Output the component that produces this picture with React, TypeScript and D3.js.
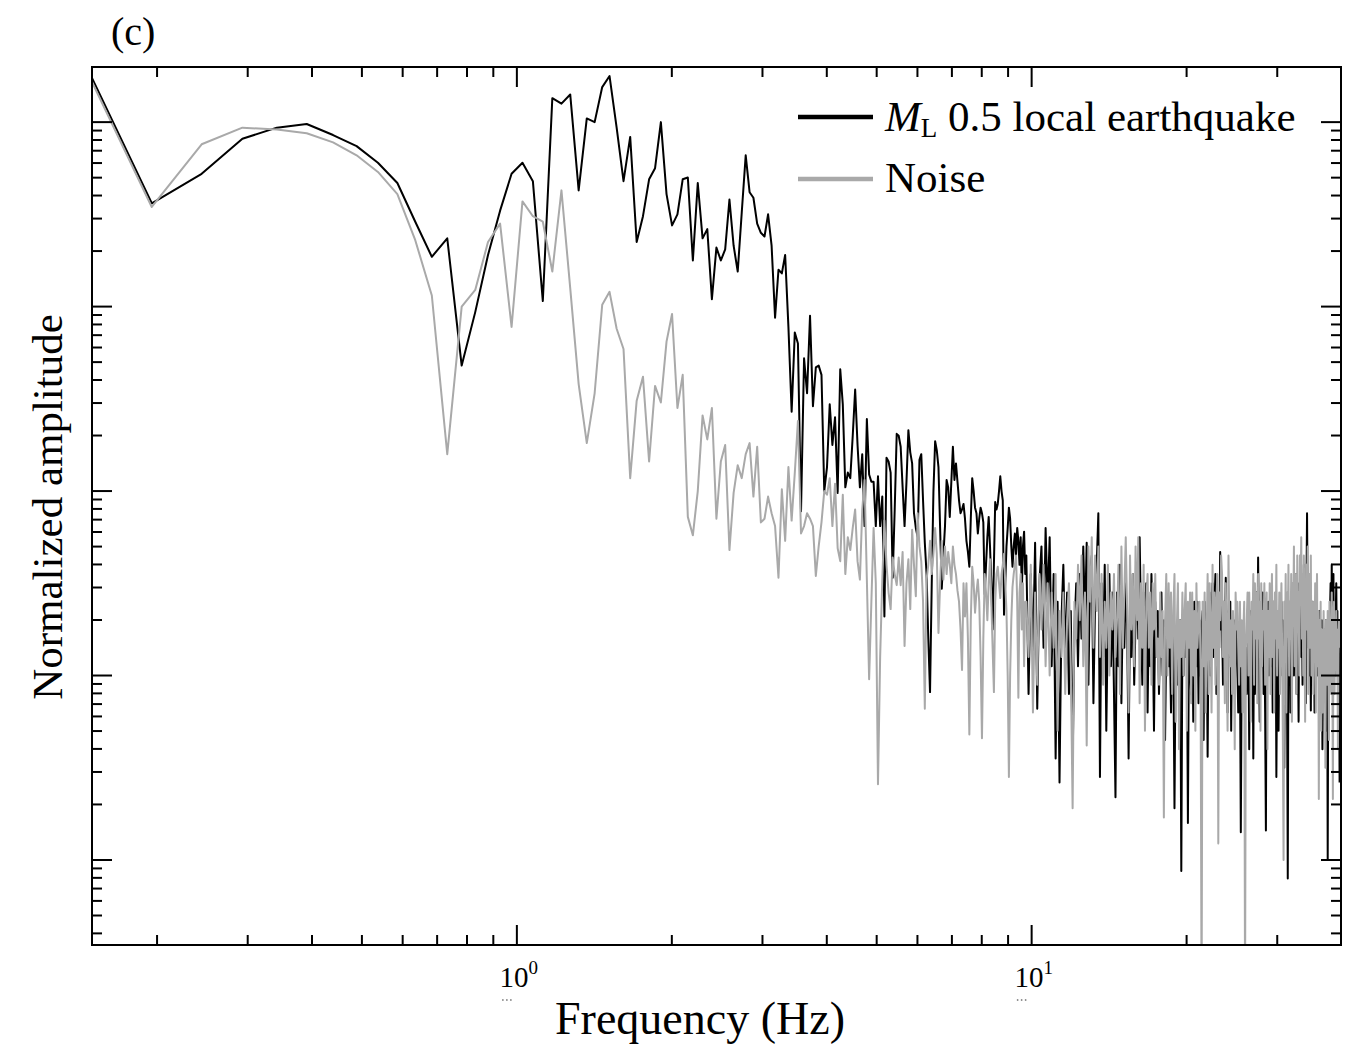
import React from 'react';
import * as d3 from 'd3';

// Spectral resolution of the spectra (Hz per FFT bin)
const DF = 100 / 2048;
// FFT bin indices that are plotted (bins become denser than pixels at high frequency)
const BIN_SEGMENTS = [
  { start: 3, end: 199, step: 1 },
  { start: 200, end: 298, step: 2 },
  { start: 300, end: 812, step: 2 },
];

// log10 of normalized amplitude, M_L 0.5 local earthquake (black)
const quakeLogLow = [
  0.29, -0.44, -0.28, -0.09, -0.03, -0.01, -0.07, -0.13, -0.22, -0.33,
  -0.54, -0.73, -0.63, -1.32, -1.03, -0.72, -0.48, -0.28, -0.22, -0.32,
  -0.97, 0.13, 0.10, 0.15, -0.37, 0.02, 0.00, 0.19, 0.25, -0.03,
  -0.32, -0.08, -0.65, -0.51, -0.31, -0.25, 0.00, -0.39, -0.56, -0.50,
  -0.31, -0.30, -0.75, -0.33, -0.63, -0.58, -0.96, -0.68, -0.75, -0.69,
  -0.42, -0.67, -0.81, -0.49, -0.18, -0.38, -0.41, -0.55, -0.60, -0.62,
  -0.50, -0.67, -1.06, -0.80, -0.82, -0.72, -1.11, -1.57, -1.14, -1.20,
  -2.11, -1.28, -1.47, -1.05, -1.54, -1.33, -1.32, -1.37, -2.00, -1.87,
  -1.53, -1.75, -1.60, -2.01, -1.34, -1.53, -1.98, -1.90, -1.93, -1.70,
  -1.45, -1.75, -1.98, -1.80, -2.19, -1.61, -1.91, -1.95, -1.95, -2.19,
  -1.92, -2.19, -2.03, -2.68, -1.82, -1.84, -1.90, -2.47, -2.10, -1.69,
  -1.70, -1.76, -1.98, -2.19, -1.95, -1.67, -1.79, -1.85, -2.12, -2.20,
  -2.25, -1.83, -1.80, -2.05, -2.28, -2.45, -2.80, -3.09, -2.50, -2.00,
  -1.73, -1.78, -1.87, -2.20, -2.53, -2.35, -2.19, -1.94, -1.98, -2.14,
  -1.95, -1.76, -1.94, -1.85, -1.95, -2.05, -2.12, -2.10, -2.07, -2.15,
  -2.27, -2.33, -2.41, -2.15, -1.93, -2.00, -2.09, -2.12, -2.23, -2.15,
  -2.09, -2.12, -2.17, -2.56, -2.40, -2.25, -2.14, -2.30, -2.50, -2.75,
  -2.40, -2.06, -2.10, -2.07, -2.00, -1.92, -2.00, -2.05, -2.67, -2.50,
  -2.30, -2.20, -2.09, -2.15, -2.30, -2.41, -2.30, -2.23, -2.35, -2.20,
  -2.27, -2.40, -2.25, -2.55, -2.30, -2.22, -2.45,
];
const quakeLogMid = [
  -2.35, -3.10, -2.45, -2.90, -2.28, -3.18, -2.50, -2.30, -2.85, -2.20,
  -2.60, -2.25, -2.95, -2.45, -3.45, -2.60, -3.58, -2.70, -2.40, -2.90,
  -2.55, -3.10, -2.65, -3.48, -2.75, -2.50, -2.95, -2.45, -2.80, -2.30,
  -2.70, -2.28, -3.05, -2.45, -2.35, -3.15, -2.60, -2.40, -2.12, -3.55,
  -2.50, -2.90, -2.40, -3.30, -2.70, -2.45, -2.95, -2.55, -3.10, -3.66,
];
const quakeLogHigh = [
  -2.55, -2.95, -2.40, -3.15, -2.60, -2.85, -2.50, -2.75, -3.45, -2.65,
  -2.90, -2.45, -3.05, -2.70, -2.40, -2.80, -2.25, -2.70, -3.05, -2.55,
  -2.85, -2.50, -3.20, -2.65, -2.95, -2.45, -2.75, -3.30, -2.60, -2.90,
  -2.65, -3.10, -2.75, -2.55, -3.00, -2.70, -3.35, -2.80, -2.65, -2.95,
  -2.80, -3.20, -2.70, -2.90, -3.72, -2.85, -2.75, -3.05, -2.80, -2.70,
  -4.06, -2.75, -3.00, -2.65, -2.90, -2.70, -3.80, -2.75, -2.95, -3.10,
  -2.65, -3.25, -2.60, -2.85, -2.95, -2.60, -3.15, -2.70, -3.00, -2.75,
  -2.65, -3.35, -2.60, -2.90, -2.75, -3.44, -2.70, -2.55, -3.00, -2.65,
  -2.50, -2.90, -2.60, -2.45, -3.10, -2.70, -2.60, -2.85, -2.33, -2.75,
  -2.70, -3.05, -2.60, -2.85, -2.47, -2.80, -3.20, -2.65, -2.90, -2.60,
  -3.30, -2.75, -2.95, -2.70, -3.10, -2.85, -2.70, -2.95, -3.20, -2.80,
  -2.90, -3.85, -2.95, -2.85, -2.95, -2.80, -2.90, -2.85, -3.10, -2.95,
  -2.75, -3.40, -2.65, -2.90, -3.00, -2.70, -3.45, -2.60, -3.10, -2.80,
  -2.55, -2.90, -2.36, -2.85, -3.25, -2.65, -2.95, -2.75, -2.55, -3.10,
  -2.80, -3.20, -3.84, -2.70, -2.90, -2.60, -3.00, -2.70, -2.55, -2.95,
  -2.75, -3.20, -2.60, -2.85, -3.05, -2.65, -3.55, -2.95, -2.70, -3.30,
  -2.80, -2.65, -3.00, -2.60, -2.90, -2.70, -2.85, -3.50, -2.75, -2.60,
  -2.80, -3.10, -4.10, -2.80, -2.95, -2.65, -3.20, -2.70, -2.60, -2.90,
  -2.70, -3.00, -2.55, -2.90, -2.45, -3.10, -2.60, -2.85, -3.25, -2.50,
  -2.70, -2.35, -2.90, -2.55, -3.05, -2.75, -2.40, -2.85, -2.60, -3.15,
  -2.55, -2.12, -2.65, -2.85, -2.50, -3.00, -2.75, -3.19, -2.60, -2.80,
  -2.60, -2.95, -2.70, -3.20, -2.75, -2.60, -2.90, -2.80, -3.00, -2.70,
  -2.85, -2.65, -3.20, -2.75, -2.95, -2.70, -3.40, -2.85, -2.80, -3.05,
  -2.75, -2.90, -2.70, -3.30, -2.80, -4.00, -2.85, -2.80, -2.95, -2.65,
  -2.50, -2.90, -2.40, -3.10, -2.55, -2.45, -2.95, -2.60, -3.00, -2.70,
  -2.50, -2.85, -2.65, -3.05, -2.70, -2.90, -3.58,
];

// log10 of normalized amplitude, noise (gray)
const noiseLogLow = [
  0.27, -0.46, -0.12, -0.03, -0.04, -0.06, -0.11, -0.18, -0.27, -0.39,
  -0.64, -0.94, -1.80, -1.00, -0.91, -0.65, -0.55, -1.11, -0.43, -0.51,
  -0.54, -0.81, -0.37, -0.90, -1.42, -1.74, -1.47, -0.99, -0.92, -1.12,
  -1.23, -1.93, -1.51, -1.38, -1.84, -1.43, -1.52, -1.19, -1.04, -1.55,
  -1.37, -2.14, -2.24, -2.00, -1.59, -1.72, -1.55, -2.15, -1.84, -1.75,
  -2.32, -2.01, -1.86, -1.93, -1.80, -1.74, -2.03, -1.76, -2.17, -2.15,
  -2.03, -2.12, -2.19, -2.47, -1.99, -2.27, -1.87, -2.16, -1.90, -1.62,
  -2.23, -2.19, -2.12, -2.15, -2.19, -2.46, -2.30, -2.17, -2.00, -2.02,
  -1.93, -2.19, -1.96, -2.31, -2.38, -2.02, -2.45, -2.25, -2.32, -2.20,
  -2.10, -2.38, -2.48, -2.10, -1.94, -2.48, -3.02, -2.60, -2.20, -2.50,
  -3.59, -2.90, -2.48, -2.16, -2.40, -2.55, -2.64, -2.36, -2.45, -2.51,
  -2.36, -2.51, -2.33, -2.84, -2.50, -2.37, -2.64, -2.21, -2.40, -2.57,
  -2.12, -2.30, -2.38, -2.60, -3.18, -2.48, -2.40, -2.27, -2.45, -2.34,
  -2.20, -2.34, -2.77, -2.50, -2.27, -2.48, -2.30, -2.45, -2.33, -2.40,
  -2.50, -2.30, -2.40, -2.45, -2.54, -2.60, -2.75, -2.97, -2.50, -2.68,
  -2.50, -2.80, -3.32, -2.70, -2.41, -2.50, -2.66, -2.55, -2.48, -2.60,
  -2.90, -3.34, -2.80, -2.45, -2.55, -2.70, -2.50, -2.37, -2.60, -2.85,
  -3.09, -2.60, -2.45, -2.41, -2.50, -2.58, -2.45, -2.40, -2.34, -2.50,
  -2.65, -3.00, -3.55, -3.00, -2.70, -2.52, -2.45, -2.40, -2.35, -2.60,
  -3.12, -2.55, -2.45, -2.75, -2.50, -2.95, -2.60,
];
const noiseLogMid = [
  -2.60, -2.90, -2.40, -3.20, -2.55, -3.05, -2.45, -2.75, -2.40, -2.95,
  -2.50, -3.00, -2.55, -2.85, -2.45, -3.30, -2.65, -2.90, -2.55, -3.10,
  -2.70, -2.50, -2.95, -3.72, -2.60, -2.80, -2.40, -2.70, -2.35, -2.95,
  -2.55, -3.38, -2.30, -2.60, -2.25, -2.85, -2.35, -2.65, -2.30, -2.90,
  -2.45, -3.05, -2.60, -2.85, -2.40, -3.00, -2.55, -2.75, -2.45, -2.90,
];
const noiseLogHigh = [
  -2.70, -2.40, -3.10, -2.30, -2.85, -2.55, -2.25, -2.65, -3.20, -2.35,
  -2.75, -2.45, -2.95, -2.30, -2.70, -2.25, -3.15, -2.50, -2.85, -2.40,
  -3.30, -2.60, -2.45, -2.85, -2.55, -3.05, -2.50, -2.75, -2.45, -2.90,
  -2.80, -3.05, -2.55, -2.90, -2.65, -3.77, -2.70, -2.45, -3.00, -2.50,
  -2.85, -2.55, -3.10, -2.65, -2.45, -3.25, -2.75, -2.50, -3.40, -2.70,
  -2.90, -2.55, -3.00, -2.65, -2.50, -3.30, -2.60, -2.85, -2.55, -3.15,
  -2.55, -3.00, -2.65, -3.30, -2.50, -2.85, -2.70, -2.60, -2.95, -4.80,
  -2.60, -2.95, -2.55, -3.20, -2.80, -2.45, -3.10, -2.50, -2.75, -3.20,
  -2.40, -2.85, -2.55, -3.05, -2.60, -2.45, -3.91, -2.55, -2.70, -2.35,
  -2.45, -2.90, -2.60, -3.15, -2.50, -2.85, -3.30, -2.35, -2.75, -2.95,
  -2.70, -3.10, -2.65, -2.80, -3.40, -2.55, -2.75, -2.60, -2.85, -3.05,
  -2.60, -2.95, -2.70, -3.20, -2.75, -2.60, -4.80, -2.85, -2.70, -2.55,
  -3.00, -2.55, -2.85, -3.25, -2.60, -2.75, -2.45, -3.05, -2.50, -2.80,
  -2.55, -3.15, -2.45, -2.80, -2.60, -3.30, -2.50, -2.95, -2.65, -2.75,
  -2.50, -3.05, -2.70, -2.55, -3.40, -2.65, -2.90, -2.50, -3.10, -2.70,
  -2.45, -2.90, -2.60, -3.20, -2.55, -2.80, -2.40, -3.00, -2.65, -2.85,
  -2.55, -3.10, -2.70, -2.50, -2.85, -3.35, -4.00, -2.60, -2.85, -2.45,
  -3.20, -2.55, -2.75, -2.40, -3.00, -2.60, -2.80, -2.45, -3.25, -2.50,
  -2.70, -2.30, -2.95, -2.45, -2.60, -3.10, -2.35, -2.75, -2.55, -3.00,
  -2.35, -2.55, -2.25, -2.80, -2.45, -3.00, -2.35, -2.65, -3.25, -2.55,
  -2.40, -2.75, -2.30, -3.10, -2.55, -2.45, -2.85, -2.35, -3.00, -2.60,
  -2.75, -3.10, -2.60, -2.85, -2.50, -3.20, -2.70, -2.45, -2.95, -2.65,
  -3.67, -2.70, -2.95, -2.60, -3.30, -2.75, -2.85, -3.20, -2.65, -2.95,
  -2.75, -3.50, -2.70, -2.90, -3.05, -2.65, -2.80, -3.35, -2.60, -2.95,
  -2.75, -3.10, -2.55, -2.85, -3.67, -2.75, -2.60, -3.10, -2.70, -2.90,
  -2.65, -3.00, -2.75, -3.40, -2.80, -2.70, -2.85,
];

const xTickLabels = [
  { value: 1, base: '10', exp: '0' },
  { value: 10, base: '10', exp: '1' },
];

const legendItems = [
  { key: 'quake', color: '#000000' },
  { key: 'noise', color: '#a9a9a9' },
];

const W = 1348;
const H = 1050;
const PLOT = { left: 92, right: 1341, top: 67, bottom: 945 };
const FONT = '"Liberation Serif", "Times New Roman", serif';

export default function App() {
  const x = d3.scaleLog().domain([0.1495, 39.9]).range([PLOT.left, PLOT.right]);
  const y = d3.scaleLog().domain([3.46e-5, 1.99]).range([PLOT.bottom, PLOT.top]);

  const bins = BIN_SEGMENTS.flatMap((s) => d3.range(s.start, s.end + 1, s.step));
  const freqs = bins.map((k) => k * DF);
  const quake = [...quakeLogLow, ...quakeLogMid, ...quakeLogHigh];
  const noise = [...noiseLogLow, ...noiseLogMid, ...noiseLogHigh];

  const toPts = (vals: number[]) => vals.map((v, i) => ({ f: freqs[i], a: Math.pow(10, v) }));
  const line = d3
    .line<{ f: number; a: number }>()
    .x((d) => x(d.f))
    .y((d) => y(d.a));

  const isMajor = (v: number) => Math.abs(Math.log10(v) - Math.round(Math.log10(v))) < 1e-6;
  const xTicks = x.ticks();
  const yTicks = y.ticks();

  return (
    <svg
      width={W}
      height={H}
      style={{ position: 'absolute', left: 0, top: 0, background: '#fff' }}
      fontFamily={FONT}
    >
      <defs>
        <clipPath id="plotClip">
          <rect x={PLOT.left} y={PLOT.top} width={PLOT.right - PLOT.left} height={PLOT.bottom - PLOT.top} />
        </clipPath>
      </defs>

      <g clipPath="url(#plotClip)" fill="none" strokeLinejoin="round">
        <path d={line(toPts(quake)) || ''} stroke="#000" strokeWidth={2} />
        <path d={line(toPts(noise)) || ''} stroke="#a9a9a9" strokeWidth={2} />
      </g>

      {/* ticks */}
      <g stroke="#000" strokeWidth={2}>
        {xTicks.map((t, i) => {
          const len = isMajor(t) ? 20 : 10;
          const px = x(t);
          return (
            <g key={'xt' + i}>
              <line x1={px} x2={px} y1={PLOT.bottom} y2={PLOT.bottom - len} />
              <line x1={px} x2={px} y1={PLOT.top} y2={PLOT.top + len} />
            </g>
          );
        })}
        {yTicks.map((t, i) => {
          const len = isMajor(t) ? 20 : 10;
          const py = y(t);
          return (
            <g key={'yt' + i}>
              <line x1={PLOT.left} x2={PLOT.left + len} y1={py} y2={py} />
              <line x1={PLOT.right} x2={PLOT.right - len} y1={py} y2={py} />
            </g>
          );
        })}
      </g>

      {/* frame */}
      <rect
        x={PLOT.left}
        y={PLOT.top}
        width={PLOT.right - PLOT.left}
        height={PLOT.bottom - PLOT.top}
        fill="none"
        stroke="#000"
        strokeWidth={2}
      />

      {/* x tick labels */}
      {xTickLabels.map((t) => (
        <g key={'xl' + t.value}>
          <text x={x(t.value) + 2} y={987} fontSize={29} textAnchor="middle" fill="#000">
            {t.base}
            <tspan dy={-13} fontSize={19}>
              {t.exp}
            </tspan>
          </text>
          {[-4, 0, 4].map((dx) => (
            <circle key={dx} cx={x(t.value) - 10 + dx} cy={1000} r={0.9} fill="#888" />
          ))}
        </g>
      ))}

      {/* axis titles */}
      <text x={700} y={1034} fontSize={46} textAnchor="middle" fill="#000">
        Frequency (Hz)
      </text>
      <text transform="translate(62,507) rotate(-90)" fontSize={43} textAnchor="middle" fill="#000">
        Normalized amplitude
      </text>

      {/* panel label */}
      <text x={111} y={45} fontSize={40} fill="#000">
        (c)
      </text>

      {/* legend */}
      <g>
        <line x1={798} x2={873} y1={117} y2={117} stroke={legendItems[0].color} strokeWidth={4.5} />
        <text x={885} y={131} fontSize={43} fill="#000">
          <tspan fontStyle="italic">M</tspan>
          <tspan fontSize={27} dy={6}>L</tspan>
          <tspan dy={-6}> 0.5 local earthquake</tspan>
        </text>
        <line x1={798} x2={873} y1={179} y2={179} stroke={legendItems[1].color} strokeWidth={4.5} />
        <text x={885} y={192} fontSize={43} fill="#000">
          Noise
        </text>
      </g>
    </svg>
  );
}
